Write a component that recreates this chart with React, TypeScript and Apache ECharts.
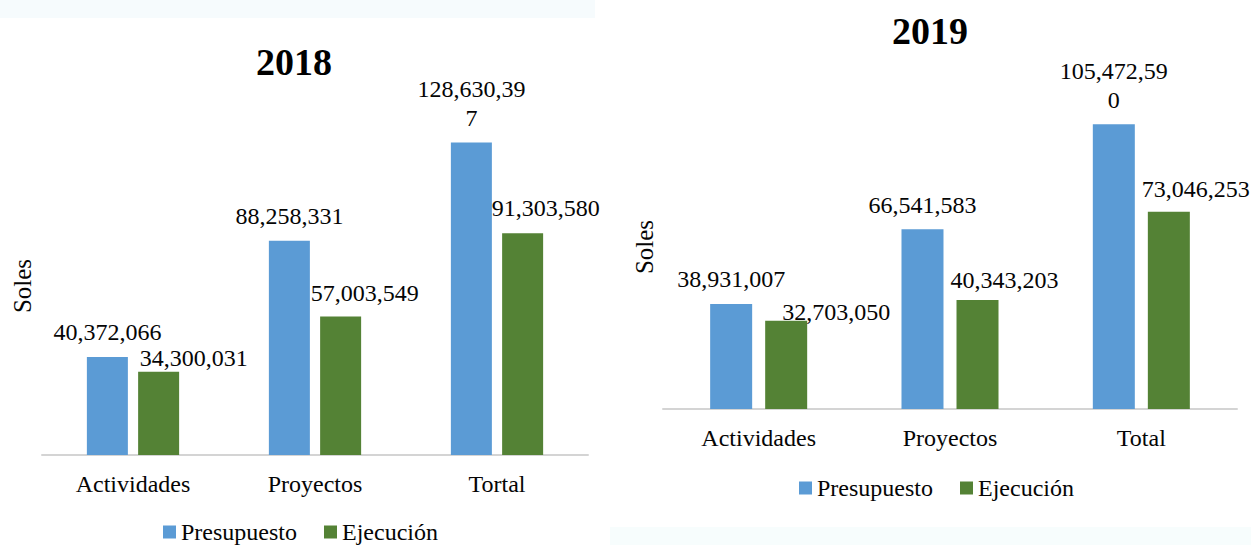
import { useEffect, useRef } from "react";
import * as echarts from "echarts";

// ---- data ----
const categories2018 = ["Actividades", "Proyectos", "Tortal"];
const presupuesto2018 = [40372066, 88258331, 128630397];
const ejecucion2018 = [34300031, 57003549, 91303580];

const categories2019 = ["Actividades", "Proyectos", "Total"];
const presupuesto2019 = [38931007, 66541583, 105472590];
const ejecucion2019 = [32703050, 40343203, 73046253];

const seriesNames = ["Presupuesto", "Ejecución"];
const chartTitles = ["2018", "2019"];
const axisTitle = "Soles";

// hand-moved "Ejecución" value labels in the source ([dx, dy] nudges)
const ejecLabelShift2018 = [[35, 11], [24, 1], [23, -1]];
const ejecLabelShift2019 = [[50, 16], [27, 4], [27, 2]];

const FONT = "Liberation Serif";
const BLUE = "#5B9BD5";
const GREEN = "#548235";
const TEXT = "#050505";

const fmt = new Intl.NumberFormat("en-US");

export default function App() {
  const ref = useRef<HTMLDivElement>(null);

  useEffect(() => {
    if (!ref.current) return;
    const chart = echarts.init(ref.current, null, { renderer: "svg" });

    const labelBase = {
      show: true,
      position: "top",
      distance: 10,
      color: TEXT,
      fontFamily: FONT,
      fontWeight: "normal",
      fontSize: 24,
      lineHeight: 29,
      width: 112,
      overflow: "breakAll",
      formatter: (p: any) => fmt.format(p.value),
    };

    const xAxisBase = {
      type: "category",
      axisLine: { show: true, lineStyle: { color: "#d4d4d4", width: 2 } },
      axisTick: { show: false },
      axisLabel: { color: TEXT, fontFamily: FONT, fontSize: 24, margin: 17 },
      splitLine: { show: false },
    };
    const yAxisBase = {
      type: "value",
      min: 0,
      show: false,
      splitLine: { show: false },
    };

    const legendBase = {
      icon: "rect",
      itemWidth: 13,
      itemHeight: 13,
      itemGap: 27,
      padding: 0,
      orient: "horizontal",
      data: seriesNames,
      textStyle: { color: TEXT, fontFamily: FONT, fontSize: 24 },
    };

    const titleStyle = {
      color: "#000",
      fontFamily: FONT,
      fontSize: 38,
      fontWeight: "bold",
    };

    const sideTitle = (x: number, y: number) => ({
      type: "text",
      x,
      y,
      rotation: Math.PI / 2,
      style: {
        text: axisTitle,
        fill: TEXT,
        fontFamily: FONT,
        fontSize: 25,
        align: "center",
        verticalAlign: "middle",
      },
    });

    chart.setOption({
      animation: false,
      backgroundColor: "#ffffff",
      color: [BLUE, GREEN],
      textStyle: { fontFamily: FONT },
      title: [
        { text: chartTitles[0], left: 256, top: 43, padding: 0, textStyle: titleStyle },
        { text: chartTitles[1], left: 892, top: 12, padding: 0, textStyle: titleStyle },
      ],
      legend: [
        { ...legendBase, left: 163, top: 520 },
        { ...legendBase, left: 799, top: 476 },
      ],
      grid: [
        { left: 42, width: 546, top: 115, height: 340, containLabel: false },
        { left: 663, width: 574, top: 85, height: 324, containLabel: false },
      ],
      xAxis: [
        { ...xAxisBase, gridIndex: 0, data: categories2018 },
        { ...xAxisBase, gridIndex: 1, data: categories2019 },
      ],
      yAxis: [
        { ...yAxisBase, gridIndex: 0, max: 140000000 },
        { ...yAxisBase, gridIndex: 1, max: 120000000 },
      ],
      graphic: [
        {
          type: "rect",
          silent: true,
          z: -10,
          shape: { x: 0, y: 0, width: 595, height: 18 },
          style: { fill: "#f6fbfd" },
        },
        {
          type: "rect",
          silent: true,
          z: -10,
          shape: { x: 610, y: 527, width: 641, height: 18 },
          style: { fill: "#f7fdfd" },
        },
        sideTitle(22, 286),
        sideTitle(644, 247),
      ],
      series: [
        {
          name: seriesNames[0],
          type: "bar",
          xAxisIndex: 0,
          yAxisIndex: 0,
          barWidth: 41,
          barGap: "25%",
          itemStyle: { color: BLUE },
          label: labelBase,
          data: presupuesto2018,
        },
        {
          name: seriesNames[1],
          type: "bar",
          xAxisIndex: 0,
          yAxisIndex: 0,
          barWidth: 41,
          barGap: "25%",
          itemStyle: { color: GREEN },
          label: labelBase,
          data: ejecucion2018.map((v, i) => ({
            value: v,
            label: { offset: ejecLabelShift2018[i] },
          })),
        },
        {
          name: seriesNames[0],
          type: "bar",
          xAxisIndex: 1,
          yAxisIndex: 1,
          barWidth: 42,
          barGap: "31%",
          itemStyle: { color: BLUE },
          label: labelBase,
          data: presupuesto2019,
        },
        {
          name: seriesNames[1],
          type: "bar",
          xAxisIndex: 1,
          yAxisIndex: 1,
          barWidth: 42,
          barGap: "31%",
          itemStyle: { color: GREEN },
          label: labelBase,
          data: ejecucion2019.map((v, i) => ({
            value: v,
            label: { offset: ejecLabelShift2019[i] },
          })),
        },
      ],
    });

    return () => chart.dispose();
  }, []);

  return (
    <div
      ref={ref}
      style={{
        position: "fixed",
        left: 0,
        top: 0,
        width: 1251,
        height: 545,
        background: "#fff",
      }}
    />
  );
}
